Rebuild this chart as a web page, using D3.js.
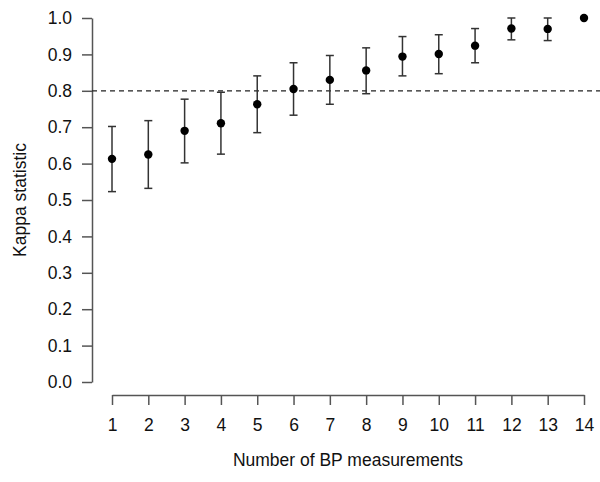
<!DOCTYPE html>
<html><head>
<meta charset="UTF-8">
<title>Kappa statistic by number of BP measurements</title>
<script src="https://cdn.jsdelivr.net/npm/d3@7"></script>
<style>
  body { margin: 0; background: #fff; }
  text { font-family: "Liberation Sans", Arial, sans-serif; fill: #111; }
</style>
</head>
<body>
<div id="chart"></div>
<script>
// values
const nMeasurements = [1, 2, 3, 4, 5, 6, 7, 8, 9, 10, 11, 12, 13, 14];
const kappa = [0.613, 0.625, 0.690, 0.711, 0.763, 0.805, 0.830, 0.856, 0.894, 0.901, 0.924, 0.971, 0.970, 1.0];
const lower = [0.523, 0.532, 0.602, 0.626, 0.685, 0.733, 0.763, 0.792, 0.841, 0.847, 0.877, 0.940, 0.938, 1.0];
const upper = [0.702, 0.718, 0.777, 0.796, 0.841, 0.877, 0.897, 0.918, 0.949, 0.954, 0.971, 1.0, 1.0, 1.0];
const yTicks = [0, 0.1, 0.2, 0.3, 0.4, 0.5, 0.6, 0.7, 0.8, 0.9, 1.0];
const refLine = 0.8;

const width = 600, height = 482;
const fontSize = 17.5;
const axisColor = "#555";

const svg = d3.select("#chart").append("svg")
    .attr("width", width)
    .attr("height", height);

const x = d3.scaleLinear().domain([1, 14]).range([112, 584]);
const y = d3.scaleLinear().domain([0, 1]).range([382, 18]);

// y axis
const yAxis = svg.append("g")
    .attr("transform", "translate(92,0)")
    .call(d3.axisLeft(y).tickValues(yTicks).tickFormat(d3.format(".1f")).tickSize(10).tickSizeOuter(0));
yAxis.select(".domain").attr("stroke", axisColor).attr("stroke-width", 1.5);
yAxis.selectAll(".tick line").attr("stroke", axisColor).attr("stroke-width", 1.5);
yAxis.selectAll(".tick text")
    .attr("x", -20)
    .style("font-size", fontSize + "px")
    .style("font-family", "'Liberation Sans', Arial, sans-serif")
    .attr("fill", "#111");

// x axis
const xAxis = svg.append("g")
    .attr("transform", "translate(0,395)")
    .call(d3.axisBottom(x).tickValues(nMeasurements).tickFormat(d3.format("d")).tickSize(10).tickSizeOuter(0));
xAxis.select(".domain").attr("stroke", axisColor).attr("stroke-width", 1.5);
xAxis.selectAll(".tick line").attr("stroke", axisColor).attr("stroke-width", 1.5);
xAxis.selectAll(".tick text")
    .attr("y", 24)
    .style("font-size", fontSize + "px")
    .style("font-family", "'Liberation Sans', Arial, sans-serif")
    .attr("fill", "#111");

// reference line at 0.8
svg.append("line")
    .attr("x1", 92).attr("x2", width)
    .attr("y1", y(refLine)).attr("y2", y(refLine))
    .attr("stroke", "#222")
    .attr("stroke-width", 1.2)
    .attr("stroke-dasharray", "5,4");

// error bars
const bars = svg.append("g");
nMeasurements.forEach((n, i) => {
  if (upper[i] - lower[i] < 1e-6) return;
  const cx = x(n);
  const g = bars.append("g").attr("stroke", "#333").attr("stroke-width", 1.5);
  g.append("line").attr("x1", cx).attr("x2", cx).attr("y1", y(lower[i])).attr("y2", y(upper[i]));
  g.append("line").attr("x1", cx - 4).attr("x2", cx + 4).attr("y1", y(lower[i])).attr("y2", y(lower[i]));
  g.append("line").attr("x1", cx - 4).attr("x2", cx + 4).attr("y1", y(upper[i])).attr("y2", y(upper[i]));
});

// points
svg.append("g").selectAll("circle")
    .data(nMeasurements)
    .join("circle")
    .attr("cx", d => x(d))
    .attr("cy", (d, i) => y(kappa[i]))
    .attr("r", 4.2)
    .attr("fill", "#000");

// axis titles
svg.append("text")
    .attr("x", (x(1) + x(14)) / 2)
    .attr("y", 466)
    .attr("text-anchor", "middle")
    .style("font-size", fontSize + "px")
    .text("Number of BP measurements");

svg.append("text")
    .attr("transform", "translate(26," + y(0.5) + ") rotate(-90)")
    .attr("text-anchor", "middle")
    .style("font-size", fontSize + "px")
    .text("Kappa statistic");
</script>
</body></html>
